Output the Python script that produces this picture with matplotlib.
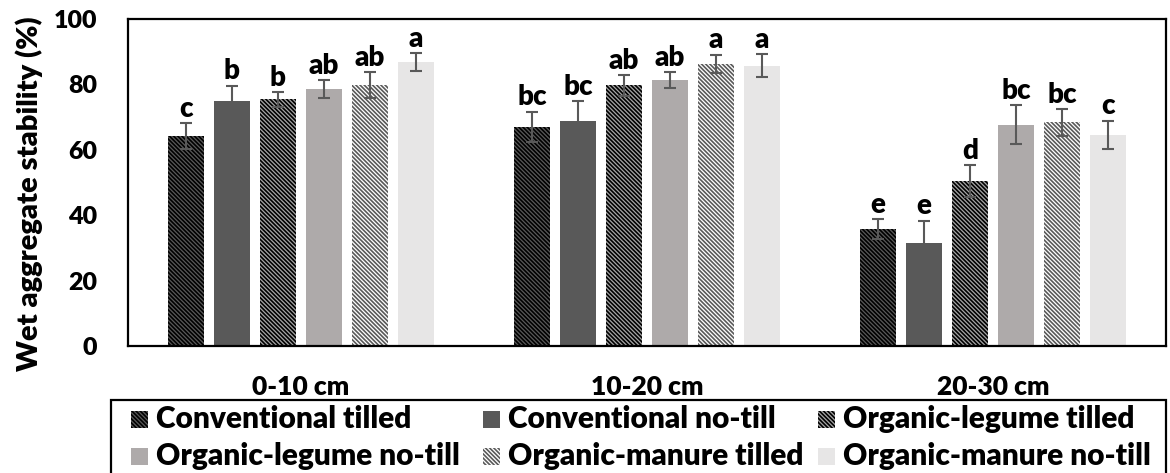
import numpy as np
import matplotlib
matplotlib.use('Agg')
import matplotlib.pyplot as plt
from matplotlib.patches import Rectangle

plt.rcParams['font.family'] = ['Lato', 'DejaVu Sans']
plt.rcParams['font.weight'] = 'heavy'
plt.rcParams['axes.labelweight'] = 'heavy'
plt.rcParams['hatch.linewidth'] = 1.2

# Profundidades y tratamientos
profundidades = ['0-10 cm', '10-20 cm', '20-30 cm']
tratamientos = ['Conventional tilled', 'Conventional no-till', 'Organic-legume tilled',
                'Organic-legume no-till', 'Organic-manure tilled', 'Organic-manure no-till']

# Estabilidad de agregados (%) por tratamiento, una lista por profundidad
medias = [
    [64.2, 74.9, 75.4, 78.5, 79.8, 86.8],
    [67.1, 68.9, 79.7, 81.3, 86.3, 85.7],
    [35.7, 31.4, 50.4, 67.7, 68.4, 64.6],
]
errores = [
    [4.0, 4.7, 2.3, 2.8, 4.0, 2.7],
    [4.6, 5.9, 3.2, 2.5, 2.8, 3.5],
    [3.1, 6.9, 4.9, 5.9, 4.1, 4.3],
]
letras = [
    ['c', 'b', 'b', 'ab', 'ab', 'a'],
    ['bc', 'bc', 'ab', 'ab', 'a', 'a'],
    ['e', 'e', 'd', 'bc', 'bc', 'c'],
]

# Relleno y trama de cada tratamiento
fondos = ['#595959', '#595959', '#a6a6a6', '#aeaaaa', '#ffffff', '#e7e6e6']
tramas = ['\\' * 8, None, '\\' * 8, None, '\\' * 8, None]
color_trama = ['#000000', '#595959', '#000000', '#aeaaaa', '#595959', '#e7e6e6']

fig = plt.figure(figsize=(11.7, 4.73), dpi=100)
ax = fig.add_axes([128 / 1170, 1 - 346 / 473, 1038 / 1170, 327 / 473])

x = np.arange(len(profundidades))
paso = 0.133
ancho = 0.104
medias = np.array(medias)
errores = np.array(errores)

for k in range(len(tratamientos)):
    pos = x + (k - 2.5) * paso
    ax.bar(pos, medias[:, k], width=ancho, color=fondos[k], hatch=tramas[k],
           edgecolor=color_trama[k], linewidth=0, zorder=2)
    ax.errorbar(pos, medias[:, k], yerr=errores[:, k], fmt='none', ecolor='#595959',
                elinewidth=1.5, capsize=4, capthick=1.5, zorder=3)
    for i in range(len(profundidades)):
        ax.annotate(letras[i][k], (pos[i], medias[i, k] + errores[i, k]),
                    xytext=(0, 1), textcoords='offset points', ha='center', va='bottom',
                    fontsize=20)

ax.set_xlim(-0.5, 2.5)
ax.set_ylim(0, 100)
ax.set_yticks([0, 20, 40, 60, 80, 100])
ax.set_xticks(x)
ax.set_xticklabels(profundidades)
ax.tick_params(axis='y', length=0, pad=22, labelsize=18)
ax.tick_params(axis='x', length=0, pad=21, labelsize=19)
for s in ax.spines.values():
    s.set_linewidth(1.6)
ax.set_ylabel('Wet aggregate stability (%)', fontsize=21)
ax.yaxis.set_label_coords(-0.082, 0.465)

# Leyenda dibujada a mano en dos filas de tres
marco = Rectangle((111 / 1170, -0.1), (1166 - 111) / 1170, 1.1 - 400 / 473,
                  transform=fig.transFigure, fill=False, edgecolor='black',
                  linewidth=1.6, clip_on=False)
fig.add_artist(marco)
col_x = [131, 483, 818]
fila_y = [419, 456]
lado = 17
for k, nombre in enumerate(tratamientos):
    cx = col_x[k % 3]
    cy = fila_y[k // 3]
    caja = Rectangle((cx / 1170, 1 - (cy + lado / 2) / 473), lado / 1170, lado / 473,
                     transform=fig.transFigure, facecolor=fondos[k], hatch=tramas[k],
                     edgecolor=color_trama[k], linewidth=0)
    fig.add_artist(caja)
    fig.text((cx + lado + 8) / 1170, 1 - cy / 473, nombre, ha='left', va='center',
             fontsize=21.5)

fig.savefig('out.png', dpi=100)
